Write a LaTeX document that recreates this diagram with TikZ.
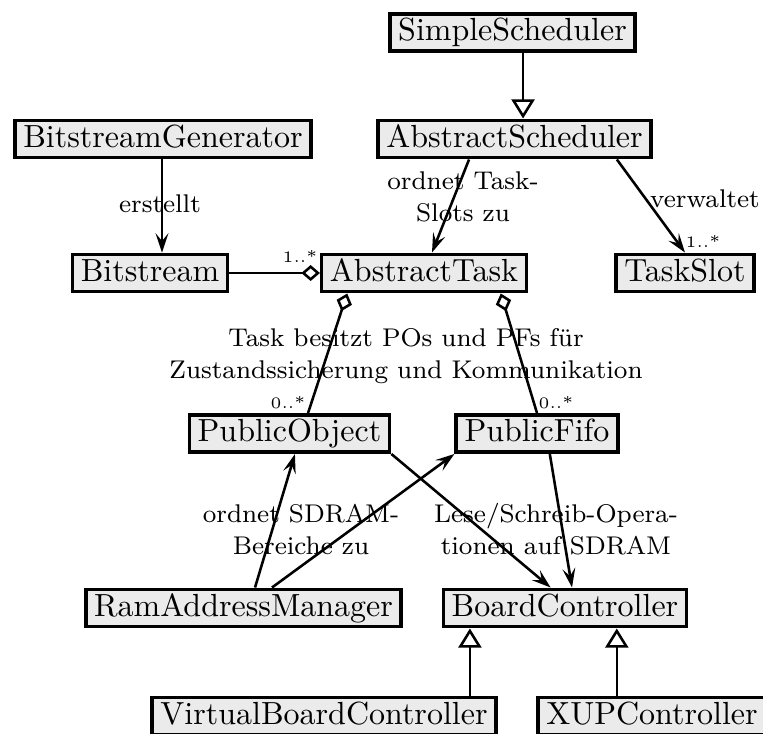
\documentclass[tikz,border=0pt]{standalone}
\usetikzlibrary{arrows.meta}
\begin{document}
\begin{tikzpicture}[x=0.3125pt, y=-0.3125pt,
  class/.style={draw, line width=1.1pt, fill=black!8, inner xsep=2.6pt, inner ysep=1.35pt,
                text height=7pt, text depth=2pt},
  link/.style={line width=0.8pt},
  assoc/.style={link, -{Stealth[length=6pt, width=4pt, inset=2.4pt]}},
  inherit/.style={link, -{Triangle[open, length=6pt, width=7.2pt, fill=white]}},
  aggr/.style={link, {Diamond[open, length=5.8pt, width=5pt, fill=white]}-},
  lbl/.style={font=\fontsize{8}{10.2}\selectfont, align=center, inner sep=0pt},
  mult/.style={font=\tiny, inner sep=0pt, anchor=base}]
\useasboundingbox (0,0) rectangle (763,733);
\clip (0,0) rectangle (763,733);

% classes
\node[class] (ss)  at (512.5,32.5) {SimpleScheduler};
\node[class] (as)  at (514.5,139)  {AbstractScheduler};
\node[class] (bg)  at (163,139)    {BitstreamGenerator};
\node[class] (bs)  at (150,273)    {Bitstream};
\node[class] (at)  at (424,273)    {AbstractTask};
\node[class] (ts)  at (685,273)    {TaskSlot};
\node[class] (po)  at (289.5,433.5) {PublicObject};
\node[class] (pf)  at (537,433.5)  {PublicFifo};
\node[class] (ram) at (243.5,608)  {RamAddressManager};
\node[class] (bc)  at (565,608)    {BoardController};
\node[class] (vbc) at (324,716)    {VirtualBoardController};
\node[class] (xup) at (652,716)    {XUPController};

% inheritance
\draw[inherit] ([xshift=3.3pt]ss.south) -- ([xshift=3.3pt]ss.south |- as.north);
\draw[inherit] ([xshift=45.6pt]vbc.north) -- ([xshift=45.6pt]vbc.north |- bc.south);
\draw[inherit] ([xshift=-11pt]xup.north) -- ([xshift=-11pt]xup.north |- bc.south);

% directed associations
\draw[assoc] ([xshift=-14.2pt]as.south) -- ([xshift=2.5pt]at.north);
\draw[assoc] ([xshift=32pt]as.south) -- (ts.north);
\draw[assoc] ([xshift=3.75pt]bs.north |- bg.south) -- ([xshift=3.75pt]bs.north);
\draw[assoc] (po.south east) -- ([xshift=-4.5pt]bc.north);
\draw[assoc] ([xshift=4pt]pf.south) -- ([xshift=2.2pt]bc.north);
\draw[assoc] ([xshift=3.6pt]ram.north) -- ([xshift=1.7pt]po.south);
\draw[assoc] ([xshift=8.9pt]ram.north) -- (pf.south west);

% aggregations
\draw[aggr] (at.west) -- (bs.east);
\draw[aggr] ([xshift=-24pt]at.south) -- ([xshift=5.8pt]po.north);
\draw[aggr] ([xshift=24pt]at.south) -- (pf.north);

% labels
\node[lbl] (l1) at (463,197) {ordnet Task-\\Slots zu};
\node[lbl, anchor=base] (l2) at (705,207) {verwaltet};
\node[lbl, anchor=base] (l3) at (160,212) {erstellt};
\node[lbl] (l4) at (406,356) {Task besitzt POs und PFs für\\Zustandssicherung und Kommunikation};
\node[lbl] (l5) at (301,529.6) {ordnet SDRAM-\\Bereiche zu};
\node[lbl] (l6) at (556,529) {Lese/Schreib-Opera-\\tionen auf SDRAM};

% multiplicities
\node[mult] (m1) at (300,262) {1..*};
\node[mult] (m2) at (703,247) {1..*};
\node[mult] (m3) at (288,408) {0..*};
\node[mult] (m4) at (556,408) {0..*};
\end{tikzpicture}
\end{document}
